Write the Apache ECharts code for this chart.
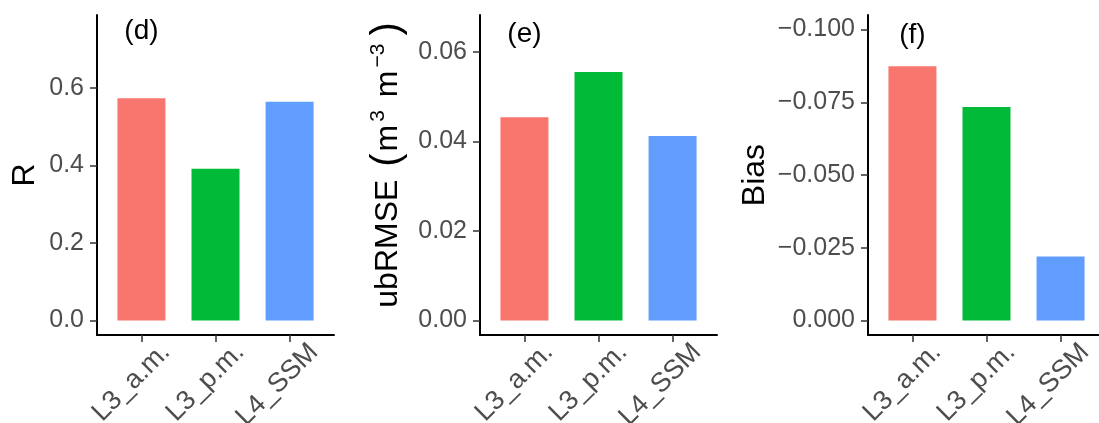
<!DOCTYPE html>
<html>
<head>
<meta charset="utf-8">
<script src="https://cdn.jsdelivr.net/npm/echarts@6/dist/echarts.min.js"></script>
<style>
  html, body { margin: 0; padding: 0; background: #ffffff; }
  #chart { width: 1099px; height: 423px; }
</style>
</head>
<body>
<div id="chart"></div>
<script>
// ---- data ----
const categories = ['L3_a.m.', 'L3_p.m.', 'L4_SSM'];
const barColors = ['#F8766D', '#00BA38', '#619CFF'];
const valuesR = [0.573, 0.391, 0.564];
const valuesUbRMSE = [0.0454, 0.0555, 0.0412];
const valuesBias = [-0.0874, -0.0734, -0.0220];
const ticksR = [0, 0.2, 0.4, 0.6];
const ticksUbRMSE = [0, 0.02, 0.04, 0.06];
const ticksBias = [0, -0.025, -0.05, -0.075, -0.1];
const panelLabels = ['(d)', '(e)', '(f)'];
const panelLabelY = [0.746, 0.0640, -0.0980];

// ---- layout / style ----
const FONT = 'Liberation Sans, Arial, sans-serif';
const LABEL_SHIFT = 0.33;
const grids = [
  { left: 97, top: 15, width: 237, height: 320, outerBoundsMode: 'none', containLabel: false },
  { left: 480, top: 15, width: 237, height: 320, outerBoundsMode: 'none', containLabel: false },
  { left: 868, top: 15, width: 237, height: 320, outerBoundsMode: 'none', containLabel: false }
];
const yRanges = [
  { min: -0.0375, max: 0.7875, inverse: false },
  { min: -0.00325, max: 0.06825, inverse: false },
  { min: -0.105, max: 0.005, inverse: true }
];
const yTicks = [ticksR, ticksUbRMSE, ticksBias];
const yFmt = [
  v => v.toFixed(1),
  v => v.toFixed(2),
  v => (Math.abs(v) < 1e-9 ? '0.000' : (v < 0 ? '\u2212' : '') + Math.abs(v).toFixed(3))
];
const yNames = ['R', 'ubRMSE {paren|(}m{sup|3} m{sup|\u22123}{paren|)}', 'Bias'];
const yNameGaps = [56, 72, 97];
const yNamePadding = [0, [0, 0, 0, 22], 0];
const allValues = [valuesR, valuesUbRMSE, valuesBias];

const axisLineStyle = { color: '#000000', width: 2 };
const tickStyle = { color: '#333333', width: 1.5 };

const xAxes = grids.map((g, i) => ({
  type: 'value',
  gridIndex: i,
  min: 0.4,
  max: 3.6,
  splitLine: { show: false },
  axisLine: { show: true, onZero: false, lineStyle: axisLineStyle },
  axisTick: { show: true, length: 7, lineStyle: tickStyle, customValues: categories.map((c, k) => k + 1) },
  axisLabel: {
    show: true,
    rotate: 45,
    margin: 13,
    fontSize: 27,
    fontFamily: FONT,
    color: '#4D4D4D',
    hideOverlap: false,
    customValues: categories.map((c, k) => k + 1 + LABEL_SHIFT),
    formatter: v => categories[Math.round(v - LABEL_SHIFT) - 1]
  }
}));

const yAxes = grids.map((g, i) => ({
  type: 'value',
  gridIndex: i,
  min: yRanges[i].min,
  max: yRanges[i].max,
  inverse: yRanges[i].inverse,
  splitLine: { show: false },
  axisLine: { show: true, onZero: false, lineStyle: axisLineStyle },
  axisTick: { show: true, length: 7, lineStyle: tickStyle, customValues: yTicks[i] },
  axisLabel: {
    show: true,
    margin: 13,
    fontSize: 25,
    fontFamily: FONT,
    color: '#4D4D4D',
    customValues: yTicks[i],
    formatter: yFmt[i]
  },
  name: yNames[i],
  nameLocation: 'middle',
  nameGap: yNameGaps[i],
  nameRotate: 90,
  nameTextStyle: {
    fontSize: 32,
    fontFamily: FONT,
    color: '#000000',
    padding: yNamePadding[i],
    rich: {
      sup: { fontSize: 21, fontFamily: FONT, color: '#000000', verticalAlign: 'top', lineHeight: 20, padding: [0, 4, 0, 3] },
      paren: { fontSize: 40, fontFamily: FONT, color: '#000000', lineHeight: 40, padding: [0, 2, 0, 4] }
    }
  }
}));

const series = allValues.map((vals, i) => ({
  type: 'bar',
  xAxisIndex: i,
  yAxisIndex: i,
  barWidth: 48,
  animation: false,
  data: vals.map((v, k) => ({ value: [k + 1, v], itemStyle: { color: barColors[k] } })),
  markPoint: {
    symbol: 'circle',
    symbolSize: 0,
    animation: false,
    label: {
      show: true,
      position: 'inside',
      fontSize: 28,
      fontFamily: FONT,
      color: '#000000',
      formatter: panelLabels[i]
    },
    data: [{ coord: [1, panelLabelY[i]], value: panelLabels[i] }]
  }
}));

const chart = echarts.init(document.getElementById('chart'), null, { renderer: 'canvas' });
chart.setOption({
  backgroundColor: '#ffffff',
  animation: false,
  grid: grids,
  xAxis: xAxes,
  yAxis: yAxes,
  series: series
});
</script>
</body>
</html>
